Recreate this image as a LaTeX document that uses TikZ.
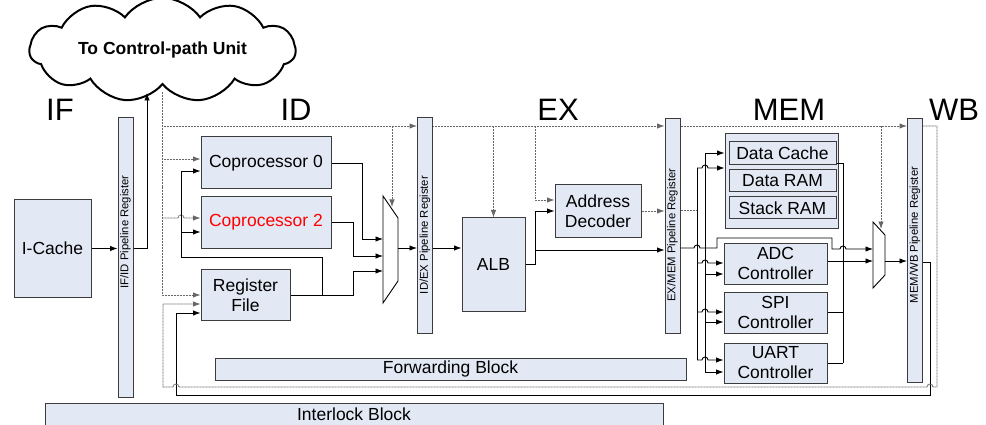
\documentclass[tikz,border=0pt]{standalone}
\usepackage{fontspec}
\setmainfont{Liberation Sans}
\usetikzlibrary{shapes.symbols,arrows.meta}
\definecolor{boxfill}{RGB}{226,233,245}
\definecolor{edgegray}{RGB}{60,60,60}
\tikzset{
  blk/.style={draw=edgegray, fill=boxfill, line width=1pt, align=center, inner sep=0pt,
    font=\fontsize{17.5}{20}\selectfont},
  pipereg/.style={draw=edgegray, fill=boxfill, line width=1pt, inner sep=0pt, minimum width=15},
  reglabel/.style={rotate=90, inner sep=0pt, font=\fontsize{11.3}{13}\selectfont},
  stage/.style={anchor=base, inner sep=0pt, font=\fontsize{31}{36}\selectfont},
  dat/.style={black, line width=0.9pt},
  ctl/.style={gray!80!black, line width=0.9pt, dash pattern=on 1pt off 0.5pt},
  arrowed/.style={-{Latex[length=7.5pt,width=5.5pt]}},
  muxshape/.style={draw=black, fill=white, line width=0.9pt},
}
\begin{document}
\begin{tikzpicture}[x=1pt, y=-1pt]
  \useasboundingbox (0,0) rectangle (986,425);
  \clip (0,0) rectangle (986,425);

  % Cloud and stage names
  \node[cloud, draw, line width=2pt, cloud puffs=11, cloud puff arc=110, aspect=3.3,
        minimum width=266, minimum height=82, inner sep=0pt,
        font=\bfseries\fontsize{17.5}{20}\selectfont] (ctrl) at (162.5,50) {To Control-path Unit};
  \coordinate (cloudin) at (147,93);
  \coordinate (busstart) at (162,92);
  \node[stage] (lblif)  at (60,121)  {IF};
  \node[stage] (lblid)  at (296,121) {ID};
  \node[stage] (lblex)  at (558,121) {EX};
  \node[stage] (lblmem) at (789,121) {MEM};
  \node[stage] (lblwb)  at (954,121) {WB};

  % Pipeline registers
  \node[pipereg, minimum height=279] (ifid)  at (125.5,257.5) {};
  \node[pipereg, minimum height=215] (idex)  at (425,225.5) {};
  \node[pipereg, minimum height=214] (exmem) at (672.5,226) {};
  \node[pipereg, minimum height=263] (memwb) at (915,250.5) {};
  \node[reglabel] (ifidlbl)  at (125.5,232) {IF/ID Pipeline Register};
  \node[reglabel] (idexlbl)  at (425,235)   {ID/EX Pipeline Register};
  \node[reglabel] (exmemlbl) at (672.5,235) {EX/MEM Pipeline Register};
  \node[reglabel] (memwblbl) at (915,235)   {MEM/WB Pipeline Register};

  % Blocks
  \node[blk, minimum width=77,  minimum height=97] (icache)  at (52.5,248.5) {I-Cache};
  \node[blk, minimum width=130, minimum height=52] (cop0)    at (266,163)   {Coprocessor 0};
  \node[blk, minimum width=130, minimum height=51] (cop2)    at (266,222.5) {\textcolor{red}{Coprocessor 2}};
  \node[blk, minimum width=89,  minimum height=51] (regfile) at (245.5,295) {Register\\File};
  \node[blk, minimum width=63,  minimum height=93] (alb)     at (493.5,264.5) {ALB};
  \node[blk, minimum width=86,  minimum height=52] (addr)    at (598,211)   {Address\\Decoder};
  \node[blk, minimum width=113, minimum height=94] (memgrp)  at (781.5,181) {};
  \node[blk, minimum width=107, minimum height=23] (dcache)  at (782.5,153.5) {Data Cache};
  \node[blk, minimum width=107, minimum height=22] (dram)    at (782.5,181)   {Data RAM};
  \node[blk, minimum width=107, minimum height=22] (sram)    at (782.5,208)   {Stack RAM};
  \node[blk, minimum width=103, minimum height=41] (adc)     at (775.5,263.5) {ADC\\Controller};
  \node[blk, minimum width=103, minimum height=41] (spi)     at (775.5,312.5) {SPI\\Controller};
  \node[blk, minimum width=103, minimum height=40] (uart)    at (775.5,363)   {UART\\Controller};
  \node[blk, minimum width=471, minimum height=22] (fwd)     at (450.5,369)   {Forwarding Block};
  \node[blk, minimum width=618, minimum height=23] (ilock)   at (354,414.5)   {Interlock Block};

  % Muxes
  \draw[muxshape] (383,196) -- (398,218) -- (398,281) -- (383,303) -- cycle;
  \coordinate (muxidout) at (398,248);
  \draw[muxshape] (873,222) -- (885,235) -- (885,275) -- (873,288) -- cycle;
  \coordinate (muxmemout) at (885,261);

  % IF stage
  \draw[dat, arrowed] (icache.east) -- (ifid.west |- icache.east);
  \draw[dat, arrowed] (ifid.east |- icache.east) -| (cloudin);

  % ID stage
  \draw[ctl, arrowed] (busstart) -- (162,295) -- (regfile.west |- 0,295);
  \draw[ctl, arrowed] (162,126) -- (idex.west |- 0,126);
  \draw[ctl, arrowed] (162,159) -- (cop0.west |- 0,159);
  \draw[ctl, arrowed] (162,218) -- (178,218) arc[start angle=180, end angle=0, radius=3pt]
      -- (cop2.west |- 0,218);
  \draw[dat, arrowed] (322,295) |- (181,257) |- (cop0.west |- 0,171);
  \draw[dat, arrowed] (181,232) -- (cop2.west |- 0,232);
  \draw[dat, arrowed] (cop0.east) -| (362,239) -- (383,239);
  \draw[dat, arrowed] (cop2.east) -| (353,256) -- (383,256);
  \draw[dat, arrowed] (regfile.east) -| (353,271) -- (383,271);
  \draw[ctl, arrowed] (392,126) -- (392,207);
  \draw[dat, arrowed] (muxidout) -- (idex.west |- muxidout);

  % EX stage
  \draw[dat, arrowed] (idex.east |- 0,248) -- (alb.west |- 0,248);
  \draw[ctl, arrowed] (idex.east |- 0,126) -- (exmem.west |- 0,126);
  \draw[ctl, arrowed] (493.5,126) -- (alb.north);
  \draw[ctl, arrowed] (535,126) |- (addr.west |- 0,200);
  \draw[dat, arrowed] (alb.east) -| (535,211) -- (addr.west |- 0,211);
  \draw[dat, arrowed] (535,250) -- (exmem.west |- 0,250);
  \draw[ctl, arrowed] (addr.east) -- (exmem.west |- addr.east);

  % MEM stage
  \draw[ctl, arrowed] (exmem.east |- 0,126) -- (memwb.west |- 0,126);
  \draw[ctl] (exmem.east |- 0,210) -- (697,210);
  \draw[dat] (697,168) -- (697,360);
  \draw[dat] (705,153) -- (705,372);
  \draw[dat, arrowed] (exmem.east |- 0,248) -- (694,248) arc[start angle=180, end angle=0, radius=3pt]
      -- (717,248) -- (717,238) -- (832,238) -- (832,249)
      -- (840,249) arc[start angle=180, end angle=0, radius=3pt] -- (873,249);
  \draw[dat, arrowed] (705,153) -- (memgrp.west |- 0,153);
  \draw[dat, arrowed] (697,168) -- (702,168) arc[start angle=180, end angle=0, radius=3pt]
      -- (memgrp.west |- 0,168);
  \draw[dat, arrowed] (697,263) -- (702,263) arc[start angle=180, end angle=0, radius=3pt]
      -- (adc.west |- 0,263);
  \draw[dat, arrowed] (705,274) -- (adc.west |- 0,274);
  \draw[dat, arrowed] (697,312) -- (702,312) arc[start angle=180, end angle=0, radius=3pt]
      -- (spi.west |- 0,312);
  \draw[dat, arrowed] (705,322) -- (spi.west |- 0,322);
  \draw[dat, arrowed] (697,360) -- (702,360) arc[start angle=180, end angle=0, radius=3pt]
      -- (uart.west |- 0,360);
  \draw[dat, arrowed] (705,372) -- (uart.west |- 0,372);
  \draw[dat] (dcache.east |- 0,163) -- (843,163) -- (843,363);
  \draw[dat] (spi.east) -- (843,312.5);
  \draw[dat] (uart.east) -- (843,363);
  \draw[dat, arrowed] (adc.east |- 0,261) -- (873,261);
  \draw[ctl, arrowed] (881,126) -- (881,229);
  \draw[dat, arrowed] (muxmemout) -- (memwb.west |- muxmemout);

  % WB feedback
  \draw[dat, arrowed] (memwb.east |- 0,262) -- (930,262) -- (930,395) -- (176,395) -- (176,313)
      -- (regfile.west |- 0,313);
  \draw[ctl, arrowed] (memwb.east |- 0,126) -- (937,126) -- (937,387)
      -- (933,387) arc[start angle=0, end angle=180, radius=3pt]
      -- (179,387) arc[start angle=0, end angle=180, radius=3pt]
      -- (163,387) -- (163,304) -- (regfile.west |- 0,304);
\end{tikzpicture}
\end{document}
